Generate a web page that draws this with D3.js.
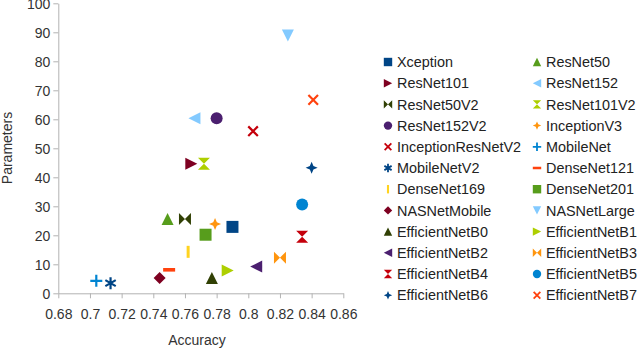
<!DOCTYPE html>
<html>
<head>
<meta charset="utf-8">
<script src="https://cdn.jsdelivr.net/npm/d3@7"></script>
<style>
  body { margin: 0; background: #fff; }
  text { font-family: "Liberation Sans", Arial, sans-serif; }
</style>
</head>
<body>
<svg width="640" height="349"></svg>
<script>
// Data
var models = ["Xception", "ResNet50", "ResNet101", "ResNet152", "ResNet50V2", "ResNet101V2",
  "ResNet152V2", "InceptionV3", "InceptionResNetV2", "MobileNet", "MobileNetV2", "DenseNet121",
  "DenseNet169", "DenseNet201", "NASNetMobile", "NASNetLarge", "EfficientNetB0", "EfficientNetB1",
  "EfficientNetB2", "EfficientNetB3", "EfficientNetB4", "EfficientNetB5", "EfficientNetB6", "EfficientNetB7"];
var accuracy = [0.790, 0.749, 0.764, 0.766, 0.760, 0.772,
  0.780, 0.779, 0.803, 0.704, 0.713, 0.750,
  0.762, 0.773, 0.744, 0.825, 0.777, 0.787,
  0.805, 0.820, 0.834, 0.834, 0.840, 0.841];
var params = [22.9, 25.6, 44.7, 60.4, 25.6, 44.7,
  60.4, 23.9, 55.9, 4.3, 3.5, 8.1,
  14.3, 20.2, 5.3, 88.9, 5.3, 7.9,
  9.2, 12.3, 19.5, 30.6, 43.3, 66.7];
var xTicks = [0.68, 0.7, 0.72, 0.74, 0.76, 0.78, 0.8, 0.82, 0.84, 0.86];
var yTicks = [0, 10, 20, 30, 40, 50, 60, 70, 80, 90, 100];

// Styles per series
var colors = ["#004586", "#579d1c", "#7e0021", "#83caff", "#314004", "#aecf00",
  "#4b1f6f", "#ff950e", "#c5000b", "#0084d1", "#004586", "#ff420e",
  "#ffd320", "#579d1c", "#7e0021", "#83caff", "#314004", "#aecf00",
  "#4b1f6f", "#ff950e", "#c5000b", "#0084d1", "#004586", "#ff420e"];
var shapes = ["square", "up", "right", "left", "bowtie", "hourglass",
  "circle", "star", "x", "plus", "asterisk", "hbar",
  "vbar", "square", "diamond", "down", "up", "right",
  "left", "bowtie", "hourglass", "circle", "star", "x"];

var data = models.map(function(m, i) {
  return {name: m, acc: accuracy[i], par: params[i], color: colors[i], shape: shapes[i]};
});

var svg = d3.select("svg");

var x = d3.scaleLinear().domain([0.68, 0.86]).range([58.3, 343.3]);
var y = d3.scaleLinear().domain([0, 100]).range([293.3, 3.3]);

// symbol path, r = half size
function symbolPath(shape, r) {
  var p = d3.path(), k;
  switch (shape) {
    case "square": p.rect(-r, -r, 2 * r, 2 * r); break;
    case "diamond": p.moveTo(0, -r); p.lineTo(r, 0); p.lineTo(0, r); p.lineTo(-r, 0); p.closePath(); break;
    case "up": p.moveTo(0, -r); p.lineTo(r, r); p.lineTo(-r, r); p.closePath(); break;
    case "down": p.moveTo(-r, -r); p.lineTo(r, -r); p.lineTo(0, r); p.closePath(); break;
    case "right": p.moveTo(-r, -r); p.lineTo(r, 0); p.lineTo(-r, r); p.closePath(); break;
    case "left": p.moveTo(r, -r); p.lineTo(-r, 0); p.lineTo(r, r); p.closePath(); break;
    case "bowtie": p.moveTo(-r, -r); p.lineTo(r, r); p.lineTo(r, -r); p.lineTo(-r, r); p.closePath(); break;
    case "hourglass": p.moveTo(-r, -r); p.lineTo(r, -r); p.lineTo(-r, r); p.lineTo(r, r); p.closePath(); break;
    case "circle": p.arc(0, 0, r, 0, 2 * Math.PI); break;
    case "star":
      k = r * 0.3;
      p.moveTo(0, -r); p.lineTo(k, -k); p.lineTo(r, 0); p.lineTo(k, k);
      p.lineTo(0, r); p.lineTo(-k, k); p.lineTo(-r, 0); p.lineTo(-k, -k); p.closePath(); break;
    case "hbar": p.rect(-r, -r * 0.3, 2 * r, r * 0.6); break;
    case "vbar": p.rect(-r * 0.25, -r, r * 0.5, 2 * r); break;
    case "x": k = r * 0.8; p.moveTo(-k, -k); p.lineTo(k, k); p.moveTo(k, -k); p.lineTo(-k, k); break;
    case "plus": p.moveTo(-r, 0); p.lineTo(r, 0); p.moveTo(0, -r); p.lineTo(0, r); break;
    case "asterisk":
      p.moveTo(0, -r); p.lineTo(0, r);
      k = r * 0.866;
      p.moveTo(-k, -r / 2); p.lineTo(k, r / 2);
      p.moveTo(-k, r / 2); p.lineTo(k, -r / 2); break;
  }
  return p.toString();
}
var stroked = {x: true, plus: true, asterisk: true};

function drawSymbol(sel, r, sw) {
  sel.attr("d", function(d) { return symbolPath(d.shape, r); })
    .attr("fill", function(d) { return stroked[d.shape] ? "none" : d.color; })
    .attr("stroke", function(d) { return stroked[d.shape] ? d.color : "none"; })
    .attr("stroke-width", sw);
}

// Axes
var xAxis = svg.append("g")
  .attr("transform", "translate(0," + y(0) + ")")
  .call(d3.axisBottom(x).tickValues(xTicks).tickSize(5).tickSizeOuter(0)
    .tickFormat(function(d) { return String(+d.toFixed(2)); }));
var yAxis = svg.append("g")
  .attr("transform", "translate(" + x(0.68) + ",0)")
  .call(d3.axisLeft(y).tickValues(yTicks).tickSize(5).tickSizeOuter(0));

[xAxis, yAxis].forEach(function(a) {
  a.select(".domain").attr("stroke", "#b3b3b3");
  a.selectAll(".tick line").attr("stroke", "#b3b3b3");
  a.selectAll(".tick text").attr("fill", "#333").style("font-size", "14px")
    .style("font-family", "'Liberation Sans', Arial, sans-serif");
});
xAxis.selectAll(".tick text").attr("dy", "1.25em");
yAxis.selectAll(".tick text").attr("x", -8).attr("dy", "0.4em");

// Axis titles
svg.append("text")
  .attr("x", 197).attr("y", 345)
  .attr("text-anchor", "middle")
  .style("font-size", "14px").attr("fill", "#333")
  .text("Accuracy");
svg.append("text")
  .attr("transform", "translate(12,148) rotate(-90)")
  .attr("text-anchor", "middle")
  .style("font-size", "14px").attr("fill", "#333")
  .text("Parameters");

// Points
svg.append("g").selectAll("path")
  .data(data)
  .enter().append("path")
    .attr("transform", function(d) { return "translate(" + x(d.acc) + "," + y(d.par) + ")"; })
    .call(drawSymbol, 6, 2.2);

// Legend
var legend = svg.append("g").attr("class", "legend");
var rows = legend.selectAll("g")
  .data(data)
  .enter().append("g")
    .attr("transform", function(d, i) {
      return "translate(" + (i % 2 ? 537 : 388) + "," + (62 + Math.floor(i / 2) * 21.2) + ")";
    });
rows.append("path").call(drawSymbol, 4.2, 1.8);
rows.append("text")
  .attr("x", 9).attr("dy", "0.36em")
  .style("font-size", "14.4px").attr("fill", "#222")
  .text(function(d) { return d.name; });
</script>
</body>
</html>
